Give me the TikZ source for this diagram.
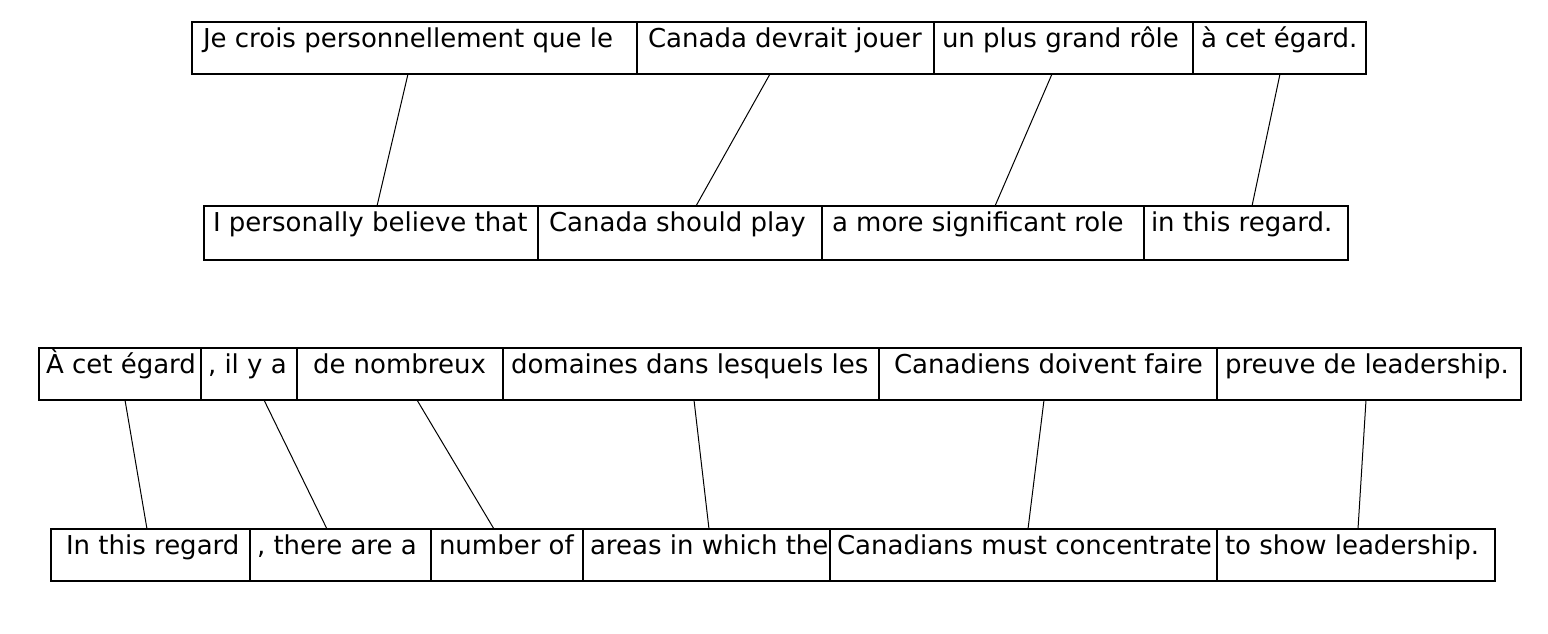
\documentclass[tikz,border=0pt]{standalone}
\usepackage{fontspec}
\setmainfont{DejaVu Sans}
\tikzset{
  wbox/.style={draw, anchor=north west, inner sep=0pt, outer sep=0pt, line width=1.1pt},
  wtext/.style={anchor=base west, inner sep=0pt, outer sep=0pt, font=\fontsize{26}{30}\selectfont},
  link/.style={line width=1pt}
}
\newcommand\rowh{52pt}
\newcommand\wordbox[6]{%
  \node[wbox, minimum width={(#3-#2)*1pt}, minimum height=\rowh] (#1) at (#2,#4) {};
  \node[wtext] (#1t) at ([xshift=#5pt, yshift=-25.5pt]#1.north west) {#6};
}
\begin{document}
\begin{tikzpicture}[x=1pt, y=-1pt]
\useasboundingbox (0,0) rectangle (1548,633);
% row 1
\renewcommand\rowh{52pt}
\wordbox{a1}{192}{637}{22}{11}{Je crois personnellement que le}
\wordbox{a2}{637}{934}{22}{11}{Canada devrait jouer}
\wordbox{a3}{934}{1193}{22}{8}{un plus grand rôle}
\wordbox{a4}{1193}{1366}{22}{8}{à cet égard.}
% row 2
\renewcommand\rowh{54pt}
\wordbox{b1}{204}{538}{206}{9}{I personally believe that}
\wordbox{b2}{538}{822}{206}{11}{Canada should play}
\wordbox{b3}{822}{1144}{206}{10}{a more significant role}
\wordbox{b4}{1144}{1348}{206}{7}{in this regard.}
% row 3
\renewcommand\rowh{52pt}
\wordbox{c1}{39}{201}{348}{7}{À cet égard}
\wordbox{c2}{201}{297}{348}{7}{, il y a}
\wordbox{c3}{297}{503}{348}{16}{de nombreux}
\wordbox{c4}{503}{879}{348}{8}{domaines dans lesquels les}
\wordbox{c5}{879}{1217}{348}{15}{Canadiens doivent faire}
\wordbox{c6}{1217}{1521}{348}{8}{preuve de leadership.}
% row 4
\wordbox{d1}{51}{250}{529}{15}{In this regard}
\wordbox{d2}{250}{431}{529}{7}{, there are a}
\wordbox{d3}{431}{583}{529}{8}{number of}
\wordbox{d4}{583}{830}{529}{7}{areas in which the}
\wordbox{d5}{830}{1217}{529}{7}{Canadians must concentrate}
\wordbox{d6}{1217}{1495}{529}{8}{to show leadership.}
% links
\draw[link] ([xshift=216pt]a1.south west) -- ([xshift=173pt]b1.north west);
\draw[link] ([xshift=133pt]a2.south west) -- ([xshift=158pt]b2.north west);
\draw[link] ([xshift=118pt]a3.south west) -- ([xshift=173pt]b3.north west);
\draw[link] ([xshift=87pt]a4.south west) -- ([xshift=108pt]b4.north west);
\draw[link] ([xshift=86pt]c1.south west) -- ([xshift=96pt]d1.north west);
\draw[link] ([xshift=63pt]c2.south west) -- ([xshift=77pt]d2.north west);
\draw[link] ([xshift=120pt]c3.south west) -- ([xshift=63pt]d3.north west);
\draw[link] ([xshift=191pt]c4.south west) -- ([xshift=126pt]d4.north west);
\draw[link] ([xshift=165pt]c5.south west) -- ([xshift=198pt]d5.north west);
\draw[link] ([xshift=149pt]c6.south west) -- ([xshift=141pt]d6.north west);
\end{tikzpicture}
\end{document}
